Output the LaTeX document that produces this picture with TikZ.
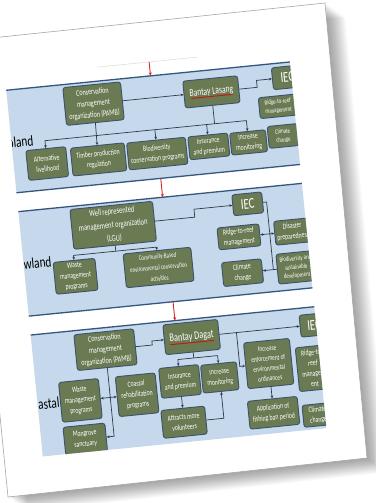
\documentclass[tikz,border=0pt]{standalone}
\usepackage{fontspec}
\setmainfont{Carlito}
\newfontfamily\boxfont[FakeStretch=0.72]{Carlito}
\newfontfamily\zonefont[FakeStretch=0.75]{Carlito}
\usetikzlibrary{arrows.meta,decorations.pathmorphing}

\definecolor{bandfill}{HTML}{C6D8EC}
\definecolor{bandline}{HTML}{35577F}
\definecolor{boxfill}{HTML}{6A7A52}
\definecolor{boxline}{HTML}{3A536E}
\definecolor{wirecol}{HTML}{2B3A4C}
\definecolor{flowcol}{HTML}{D62A2A}

\begin{document}
\begin{tikzpicture}[x=1pt, y=-1pt,
  box/.style={draw=boxline, fill=boxfill, rounded corners=2.5pt, line width=0.9pt,
    text=white, align=center, inner sep=0.5pt,
    font=\boxfont\fontsize{8}{10.5}\selectfont},
  sz/.style 2 args={minimum width=#1pt, minimum height=#2pt},
  small/.style={font=\boxfont\fontsize{6.8}{8.5}\selectfont},
  mid/.style={font=\boxfont\fontsize{7.5}{10}\selectfont},
  org/.style={font=\boxfont\fontsize{8.5}{11.5}\selectfont},
  big/.style={font=\boxfont\fontsize{10.5}{12}\selectfont},
  huge/.style={font=\boxfont\fontsize{15}{16}\selectfont},
  wire/.style={draw=wirecol, line width=0.7pt},
  arr/.style={wire, -{Stealth[length=3pt,width=2.6pt]}},
  darr/.style={wire, {Stealth[length=3pt,width=2.6pt]}-{Stealth[length=3pt,width=2.6pt]}},
  flow/.style={draw=flowcol, line width=0.9pt, -{Stealth[length=3.5pt,width=3pt]}},
  bandedge/.style={draw=bandline, line width=1.3pt},
  zone/.style={font=\zonefont\fontsize{15}{16}\selectfont, anchor=east, inner sep=0pt},
  squiggle/.style={draw=red!85!black, line width=0.5pt, decorate,
    decoration={snake, amplitude=0.35pt, segment length=2pt}},
  sheet/.style={fill=white, draw=gray!70, line width=0.6pt}
]
\useasboundingbox (0,0) rectangle (375,503);
\fill[white] (0,0) rectangle (375,503);

% soft drop shadow under the tilted sheet
\foreach \s in {1,...,24}
  \fill[black, opacity=0.016, shift={(\s*0.85,\s*0.6)}]
    (-37,41) -- (325,3) -- (367,458) -- (8,497) -- cycle;
% the sheet
\path[sheet] (-37,41) -- (325,3) -- (367,458) -- (8,497) -- cycle;

\begin{scope}[shift={(188,250)}, rotate=5.7, transform shape]
  \clip (-165,-193) rectangle (120,191);

  % faint rule above the first band
  \draw[gray!30, line width=0.5pt] (-72,-191) -- (28,-191);

  % three bands
  \fill[bandfill] (-170,-177) rectangle (125,-74);
  \fill[bandfill] (-170,-55) rectangle (125,50);
  \fill[bandfill] (-170,69) rectangle (125,195);
  \draw[bandedge] (-170,-177) -- (125,-177) (-170,-74) -- (125,-74);
  \draw[bandedge] (-170,-55) -- (125,-55) (-170,50) -- (125,50);
  \draw[bandedge] (-170,69) -- (125,69);

  % flow between bands
  \coordinate (f0) at (-20,-191);
  \coordinate (f1) at (-20,-177);
  \coordinate (f2) at (-20,-74);
  \coordinate (f3) at (-20,-55);
  \coordinate (f4) at (-20,50);
  \coordinate (f5) at (-20,69);
  \draw[flow] (f0) -- (f1);
  \draw[flow] (f2) -- (f3);
  \draw[flow] (f4) -- (f5);

  % zone labels
  \node[zone] (zup) at (-143,-123) {Upland};
  \node[zone] (zlow) at (-137,-2) {Lowland};
  \node[zone] (zcoast) at (-143,139) {Coastal};

  % ---------- Upland ----------
  \node[box, org, sz={58}{38}] (pamb1) at (-79.5,-155) {Conservation\\management\\organization (PAMB)};
  \node[box, big, sz={55}{27}] (bantay1) at (39,-155) {Bantay Lasang};
  \node[box, huge, sz={30}{22}] (iec1) at (116,-162) {IEC};
  \node[box, small, sz={38}{21}] (ridge1) at (104,-134) {Ridge-to-reef\\management};
  \node[box, small, sz={30}{22}] (climate1) at (106,-104) {Climate\\change};
  \node[box, sz={40}{30}] (alt) at (-131.5,-100) {Alternative\\livelihood};
  \node[box, sz={54}{28}] (timber) at (-80,-99) {Timber production\\regulation};
  \node[box, sz={59}{27}] (biodiv1) at (-21,-99) {Biodiversity\\conservation programs};
  \node[box, sz={40}{23}] (ins1) at (31,-101) {Insurance\\and premium};
  \node[box, sz={36}{22}] (mon1) at (71,-101) {Increase\\monitoring};
  \draw[squiggle] (18,-150.5) -- (60,-150.5);

  \coordinate (ubus) at (0,-123);
  \coordinate (ustep) at (85,0);
  \draw[arr] (pamb1.east) -- (bantay1.west);
  \draw[arr] (bantay1.east) -- (bantay1.east -| ustep) -- (iec1.west -| ustep) -- (iec1.west);
  \draw[arr] (pamb1.south) -- (timber.north);
  \draw[wire] (alt.north |- ubus) -- (mon1.north |- ubus);
  \draw[wire] (bantay1.south) -- (bantay1.south |- ubus);
  \draw[arr] (alt.north |- ubus) -- (alt.north);
  \draw[arr] (biodiv1.north |- ubus) -- (biodiv1.north);
  \draw[arr] (ins1.north |- ubus) -- (ins1.north);
  \draw[arr] (mon1.north |- ubus) -- (mon1.north);

  % ---------- Lowland ----------
  \node[box, font=\boxfont\fontsize{9}{13.5}\selectfont, sz={83}{40}] (lgu) at (-72,-32) {Well represented\\management organization\\(LGU)};
  \node[box, huge, sz={30}{21}] (iec2) at (64,-40) {IEC};
  \node[box, sz={42}{22}] (ridge2) at (52,-8) {Ridge-to-reef\\management};
  \node[box, sz={40}{24}] (climate2) at (52,28) {Climate\\change};
  \node[box, sz={36}{24}] (disaster) at (106,-8) {Disaster\\preparedness};
  \node[box, small, sz={38}{30}] (biodiv2) at (106,28) {Biodiversity and\\sustainable\\development};
  \node[box, sz={42}{32}] (waste2) at (-114.5,15) {Waste\\management\\programs};
  \node[box, font=\boxfont\fontsize{7}{11}\selectfont, sz={68}{34}] (community) at (-31,14.5) {Community-Based\\environmental conservation\\activities};

  \coordinate (lbus) at (0,-6);
  \coordinate (lstep) at (10,0);
  \coordinate (lrail) at (83,0);
  \draw[arr] (lgu.east) -- (lgu.east -| lstep) -- (iec2.west -| lstep) -- (iec2.west);
  \draw[wire] (iec2.east) -- (iec2.east -| lrail) -- (lrail |- climate2.east);
  \draw[darr] (ridge2.east) -- (disaster.west);
  \draw[arr] (biodiv2.west) -- (climate2.east);
  \draw[wire] (lgu.south) -- (lgu.south |- lbus);
  \draw[wire] (waste2.north |- lbus) -- (community.north |- lbus);
  \draw[arr] (waste2.north |- lbus) -- (waste2.north);
  \draw[arr] (community.north |- lbus) -- (community.north);

  % ---------- Coastal ----------
  \node[box, org, sz={60}{36}] (pamb3) at (-92,91) {Conservation\\management\\organization (PAMB)};
  \node[box, font=\boxfont\fontsize{11.5}{13}\selectfont, sz={55}{30}] (bantay3) at (-5,87) {Bantay Dagat};
  \node[box, huge, sz={28}{22}] (iec3) at (118,87) {IEC};
  \node[box, sz={40}{40}] (waste3) at (-122,139) {Waste\\management\\programs};
  \node[box, sz={42}{28}] (mangrove) at (-121,178) {Mangrove\\sanctuary};
  \node[box, sz={40}{40}] (coastal) at (-65,139) {Coastal\\rehabilitation\\programs};
  \node[box, sz={40}{30}] (ins3) at (-21,130) {Insurance\\and premium};
  \node[box, sz={36}{28}] (mon3) at (19,130) {Increase\\monitoring};
  \node[box, sz={44}{28}] (attracts) at (-21,171) {Attracts more\\volunteers};
  \node[box, mid, sz={46}{46}] (enforce) at (69,121) {Increase\\enforcement of\\environmental\\ordinances};
  \node[box, sz={50}{28}] (fishing) at (69,170.5) {Application of\\fishing ban period};
  \node[box, sz={32}{44}] (ridge3) at (113,130) {Ridge-to-\\reef\\managem\\ent};
  \node[box, sz={30}{22}] (climate3) at (113,177) {Climate\\change};
  \draw[squiggle] (-27,92.5) -- (17,92.5);

  \coordinate (cbus) at (0,108);
  \coordinate (cstep) at (-45,0);
  \coordinate (cbranch) at (40,0);
  \draw[arr] (pamb3.east) -- (pamb3.east -| cstep) -- (bantay3.west -| cstep) -- (bantay3.west);
  \draw[arr] (bantay3.east) -- (iec3.west);
  \draw[arr] (cbranch |- bantay3.east) -- (cbranch |- enforce.west) -- (enforce.west);
  \draw[wire] (bantay3.south) -- (bantay3.south |- cbus);
  \draw[wire] (ins3.north |- cbus) -- (mon3.north |- cbus);
  \draw[arr] (ins3.north |- cbus) -- (ins3.north);
  \draw[arr] (mon3.north |- cbus) -- (mon3.north);
  \draw[arr] (ins3.south) -- (attracts.north);
  \draw[arr] (attracts.east) -| (mon3.south);
  \draw[arr] (enforce.south) -- (fishing.north);
  \draw[arr] (pamb3.south) -- (pamb3.south |- mangrove.east) -- (mangrove.east);
  \draw[darr] (waste3.east) -- (coastal.west);
\end{scope}
\end{tikzpicture}
\end{document}
